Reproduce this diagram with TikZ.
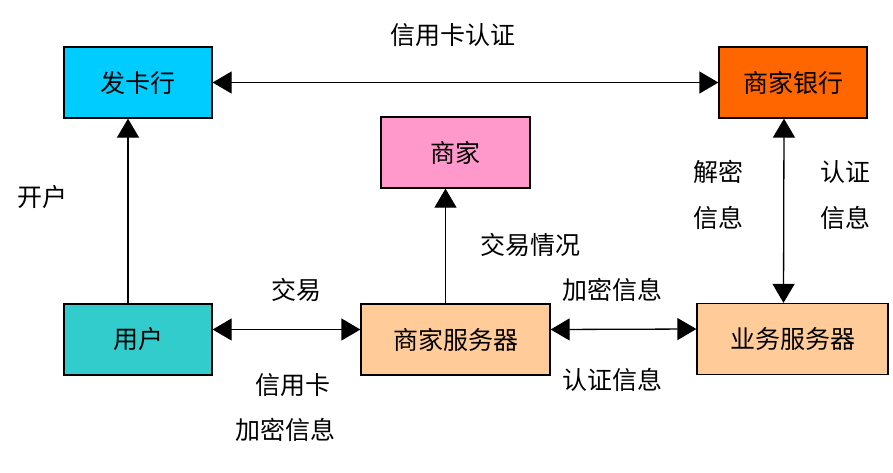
\documentclass[tikz,border=0pt]{standalone}
\usepackage{fontspec}
\setmainfont{Noto Sans CJK SC}
\usetikzlibrary{arrows.meta}
\definecolor{cfa}{HTML}{00CCFF}
\definecolor{cbank}{HTML}{FF6600}
\definecolor{cshop}{HTML}{FF99CC}
\definecolor{cuser}{HTML}{33CCCC}
\definecolor{csrv}{HTML}{FFCC99}
\begin{document}
\begin{tikzpicture}[x=1pt,y=-1pt,
  box/.style={draw=black,line width=1.3pt,minimum height=71pt,inner sep=0pt,font=\fontsize{25}{28}\selectfont},
  lbl/.style={inner sep=0pt,font=\fontsize{25}{28}\selectfont},
  tip/.tip={Triangle[length=19pt,width=22pt]},
  conn/.style={line width=1.3pt,tip-tip},
  conn1/.style={line width=1.3pt,-tip}]
\useasboundingbox (0,0) rectangle (893,472);
\node[box,fill=cfa,minimum width=148pt] (fa) at (138,82.5) {发卡行};
\node[box,fill=cbank,minimum width=148pt] (bank) at (793,82.5) {商家银行};
\node[box,fill=cshop,minimum width=149pt] (shop) at (455.5,152.5) {商家};
\node[box,fill=cuser,minimum width=148pt] (user) at (138,339.5) {用户};
\node[box,fill=csrv,minimum width=189pt] (srv) at (455.5,339.5) {商家服务器};
\node[box,fill=csrv,minimum width=191pt] (biz) at (792.5,339) {业务服务器};
\draw[conn] (fa.east) -- (bank.west);
\draw[conn1] ([xshift=-10pt]user.north) -- ([xshift=-10pt]fa.south);
\draw[conn] ([yshift=10pt]user.east) -- ([yshift=10pt]srv.west);
\draw[conn1] ([xshift=-10pt]srv.north) -- ([xshift=-10pt]shop.south);
\draw[conn] ([yshift=10pt]srv.east) -- ([yshift=10pt]biz.west);
\draw[conn] ([xshift=-9pt]bank.south) -- ([xshift=-9pt]biz.north);
\node[lbl] (l1) at (453,35) {信用卡认证};
\node[lbl] (l2) at (42,197) {开户};
\node[lbl] (l3) at (296,290) {交易};
\node[lbl] (l4) at (293,385) {信用卡};
\node[lbl] (l5) at (285,430) {加密信息};
\node[lbl] (l6) at (530,245) {交易情况};
\node[lbl] (l7) at (612,290) {加密信息};
\node[lbl] (l8) at (612,380) {认证信息};
\node[lbl] (l9) at (718,172) {解密};
\node[lbl] (l10) at (718,218) {信息};
\node[lbl] (l11) at (845,172) {认证};
\node[lbl] (l12) at (845,218) {信息};
\end{tikzpicture}
\end{document}
